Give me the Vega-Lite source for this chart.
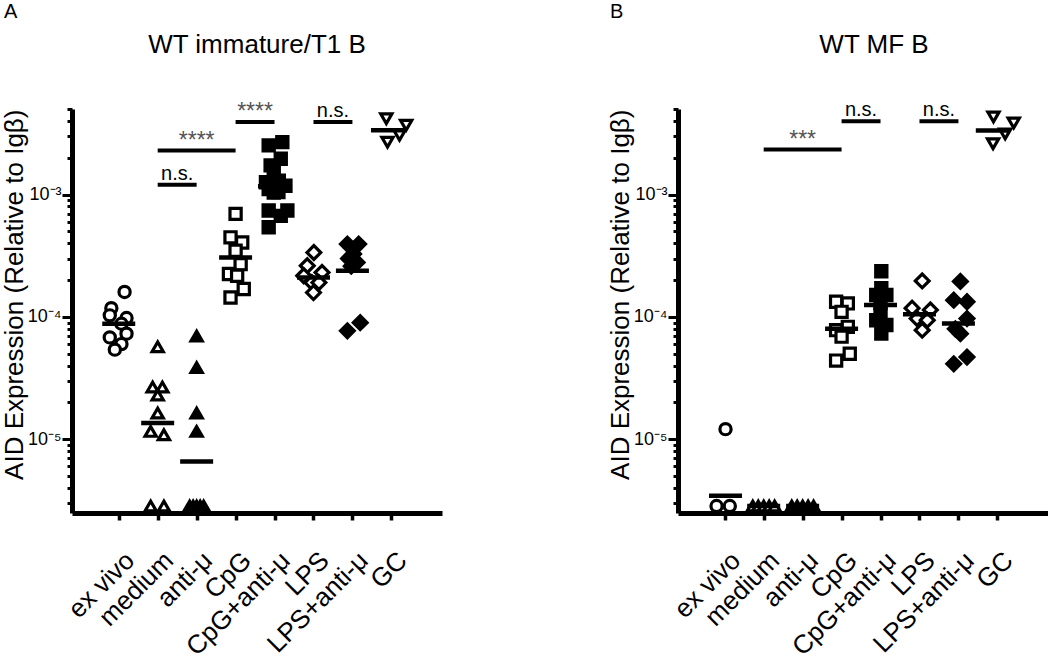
{
  "$schema": "https://vega.github.io/schema/vega-lite/v6.json",
  "background": "white",
  "padding": {"left": 0, "top": 2, "right": 0, "bottom": 0},
  "config": {
    "font": "Liberation Sans",
    "view": {"stroke": null},
    "axis": {"grid": false, "domainColor": "black", "tickColor": "black", "labelColor": "black", "titleColor": "black", "labelFont": "Liberation Sans", "titleFont": "Liberation Sans", "titleFontWeight": "normal"},
    "title": {"font": "Liberation Sans", "fontWeight": "normal", "color": "black"},
    "concat": {"spacing": 164}
  },
  "datasets": {
    "ptsA": [
      {"group": "ex vivo", "x": 0.15, "v": 1.6e-4},
      {"group": "ex vivo", "x": -0.19, "v": 1.18e-4},
      {"group": "ex vivo", "x": -0.23, "v": 1.03e-4},
      {"group": "ex vivo", "x": 0.2, "v": 9.8e-5},
      {"group": "ex vivo", "x": 0.07, "v": 8.8e-5},
      {"group": "ex vivo", "x": 0.2, "v": 7.3e-5},
      {"group": "ex vivo", "x": -0.23, "v": 6.8e-5},
      {"group": "ex vivo", "x": 0.07, "v": 6.0e-5},
      {"group": "ex vivo", "x": -0.1, "v": 5.4e-5},
      {"group": "medium", "x": 1.0, "v": 5.7e-5},
      {"group": "medium", "x": 0.87, "v": 2.67e-5},
      {"group": "medium", "x": 1.12, "v": 2.67e-5},
      {"group": "medium", "x": 1.0, "v": 2.3e-5},
      {"group": "medium", "x": 1.0, "v": 1.64e-5},
      {"group": "medium", "x": 0.82, "v": 1.16e-5},
      {"group": "medium", "x": 1.16, "v": 1.09e-5},
      {"group": "medium", "x": 0.82, "v": 2.85e-6},
      {"group": "medium", "x": 1.16, "v": 2.85e-6},
      {"group": "anti-μ", "x": 2.0, "v": 6.98e-5},
      {"group": "anti-μ", "x": 2.0, "v": 3.85e-5},
      {"group": "anti-μ", "x": 2.0, "v": 1.64e-5},
      {"group": "anti-μ", "x": 2.0, "v": 1.16e-5},
      {"group": "anti-μ", "x": 1.82, "v": 2.85e-6},
      {"group": "anti-μ", "x": 1.91, "v": 2.85e-6},
      {"group": "anti-μ", "x": 2.0, "v": 2.85e-6},
      {"group": "anti-μ", "x": 2.09, "v": 2.85e-6},
      {"group": "anti-μ", "x": 2.18, "v": 2.85e-6},
      {"group": "CpG", "x": 3.0, "v": 6.95e-4},
      {"group": "CpG", "x": 2.87, "v": 4.47e-4},
      {"group": "CpG", "x": 3.17, "v": 4.06e-4},
      {"group": "CpG", "x": 3.0, "v": 3.47e-4},
      {"group": "CpG", "x": 3.13, "v": 2.7e-4},
      {"group": "CpG", "x": 2.83, "v": 2.24e-4},
      {"group": "CpG", "x": 3.04, "v": 2.17e-4},
      {"group": "CpG", "x": 3.21, "v": 1.69e-4},
      {"group": "CpG", "x": 2.87, "v": 1.44e-4},
      {"group": "CpG+anti-μ", "x": 3.85, "v": 2.52e-3},
      {"group": "CpG+anti-μ", "x": 4.2, "v": 2.68e-3},
      {"group": "CpG+anti-μ", "x": 4.16, "v": 1.96e-3},
      {"group": "CpG+anti-μ", "x": 3.9, "v": 1.73e-3},
      {"group": "CpG+anti-μ", "x": 3.98, "v": 1.52e-3},
      {"group": "CpG+anti-μ", "x": 3.78, "v": 1.26e-3},
      {"group": "CpG+anti-μ", "x": 4.11, "v": 1.3e-3},
      {"group": "CpG+anti-μ", "x": 4.28, "v": 1.18e-3},
      {"group": "CpG+anti-μ", "x": 3.85, "v": 1.11e-3},
      {"group": "CpG+anti-μ", "x": 3.98, "v": 1.04e-3},
      {"group": "CpG+anti-μ", "x": 4.1, "v": 1.05e-3},
      {"group": "CpG+anti-μ", "x": 3.85, "v": 7.4e-4},
      {"group": "CpG+anti-μ", "x": 4.33, "v": 7.4e-4},
      {"group": "CpG+anti-μ", "x": 4.16, "v": 6.7e-4},
      {"group": "CpG+anti-μ", "x": 3.85, "v": 5.4e-4},
      {"group": "LPS", "x": 5.01, "v": 3.36e-4},
      {"group": "LPS", "x": 4.84, "v": 2.62e-4},
      {"group": "LPS", "x": 5.22, "v": 2.31e-4},
      {"group": "LPS", "x": 4.75, "v": 2.17e-4},
      {"group": "LPS", "x": 4.96, "v": 1.91e-4},
      {"group": "LPS", "x": 5.14, "v": 1.91e-4},
      {"group": "LPS", "x": 5.0, "v": 1.58e-4},
      {"group": "LPS+anti-μ", "x": 5.87, "v": 3.94e-4},
      {"group": "LPS+anti-μ", "x": 6.16, "v": 3.94e-4},
      {"group": "LPS+anti-μ", "x": 6.03, "v": 3.27e-4},
      {"group": "LPS+anti-μ", "x": 5.9, "v": 3.0e-4},
      {"group": "LPS+anti-μ", "x": 6.12, "v": 2.79e-4},
      {"group": "LPS+anti-μ", "x": 5.97, "v": 2.6e-4},
      {"group": "LPS+anti-μ", "x": 5.87, "v": 7.7e-5},
      {"group": "LPS+anti-μ", "x": 6.2, "v": 8.97e-5},
      {"group": "GC", "x": 6.87, "v": 4.17e-3},
      {"group": "GC", "x": 7.38, "v": 3.68e-3},
      {"group": "GC", "x": 7.21, "v": 3.05e-3},
      {"group": "GC", "x": 6.9, "v": 2.68e-3}
    ],
    "meanA": [
      {"x": 0, "v": 8.8e-5},
      {"x": 1, "v": 1.36e-5},
      {"x": 2, "v": 6.6e-6},
      {"x": 3, "v": 3.06e-4},
      {"x": 4, "v": 1.17e-3},
      {"x": 5, "v": 2.1e-4},
      {"x": 6, "v": 2.38e-4},
      {"x": 6.9, "v": 3.35e-3}
    ],
    "sigA": [
      {"x": 1, "x2": 2, "v": 1.2e-3},
      {"x": 1, "x2": 3, "v": 2.29e-3},
      {"x": 3, "x2": 4, "v": 3.92e-3},
      {"x": 5, "x2": 6, "v": 3.92e-3}
    ],
    "sigTextA": [
      {"x": 1.5, "v": 1.2e-3, "label": "n.s."},
      {"x": 2, "v": 2.29e-3, "label": "****"},
      {"x": 3.5, "v": 3.92e-3, "label": "****"},
      {"x": 5.5, "v": 3.92e-3, "label": "n.s."}
    ],
    "ptsB": [
      {"group": "ex vivo", "x": 0.02, "v": 1.21e-5},
      {"group": "ex vivo", "x": -0.21, "v": 2.85e-6},
      {"group": "ex vivo", "x": 0.13, "v": 2.85e-6},
      {"group": "medium", "x": 0.72, "v": 2.85e-6},
      {"group": "medium", "x": 0.86, "v": 2.85e-6},
      {"group": "medium", "x": 1.0, "v": 2.85e-6},
      {"group": "medium", "x": 1.14, "v": 2.85e-6},
      {"group": "medium", "x": 1.28, "v": 2.85e-6},
      {"group": "anti-μ", "x": 1.72, "v": 2.85e-6},
      {"group": "anti-μ", "x": 1.86, "v": 2.85e-6},
      {"group": "anti-μ", "x": 2.0, "v": 2.85e-6},
      {"group": "anti-μ", "x": 2.14, "v": 2.85e-6},
      {"group": "anti-μ", "x": 2.28, "v": 2.85e-6},
      {"group": "CpG", "x": 2.86, "v": 1.33e-4},
      {"group": "CpG", "x": 3.16, "v": 1.29e-4},
      {"group": "CpG", "x": 3.0, "v": 1.1e-4},
      {"group": "CpG", "x": 3.16, "v": 8.3e-5},
      {"group": "CpG", "x": 2.86, "v": 7.8e-5},
      {"group": "CpG", "x": 3.0, "v": 6.9e-5},
      {"group": "CpG", "x": 3.21, "v": 5.0e-5},
      {"group": "CpG", "x": 2.86, "v": 4.4e-5},
      {"group": "CpG+anti-μ", "x": 4.02, "v": 2.36e-4},
      {"group": "CpG+anti-μ", "x": 4.02, "v": 1.72e-4},
      {"group": "CpG+anti-μ", "x": 4.15, "v": 1.51e-4},
      {"group": "CpG+anti-μ", "x": 3.89, "v": 1.51e-4},
      {"group": "CpG+anti-μ", "x": 4.0, "v": 1.3e-4},
      {"group": "CpG+anti-μ", "x": 4.0, "v": 1.05e-4},
      {"group": "CpG+anti-μ", "x": 3.89, "v": 9.4e-5},
      {"group": "CpG+anti-μ", "x": 4.15, "v": 8.6e-5},
      {"group": "CpG+anti-μ", "x": 4.02, "v": 7.3e-5},
      {"group": "LPS", "x": 5.07, "v": 1.97e-4},
      {"group": "LPS", "x": 4.81, "v": 1.18e-4},
      {"group": "LPS", "x": 5.28, "v": 1.14e-4},
      {"group": "LPS", "x": 4.94, "v": 9.7e-5},
      {"group": "LPS", "x": 5.2, "v": 9.4e-5},
      {"group": "LPS", "x": 5.07, "v": 7.8e-5},
      {"group": "LPS+anti-μ", "x": 6.05, "v": 1.95e-4},
      {"group": "LPS+anti-μ", "x": 5.88, "v": 1.37e-4},
      {"group": "LPS+anti-μ", "x": 6.22, "v": 1.33e-4},
      {"group": "LPS+anti-μ", "x": 6.22, "v": 9.7e-5},
      {"group": "LPS+anti-μ", "x": 5.92, "v": 8.0e-5},
      {"group": "LPS+anti-μ", "x": 6.05, "v": 7.3e-5},
      {"group": "LPS+anti-μ", "x": 5.88, "v": 4.14e-5},
      {"group": "LPS+anti-μ", "x": 6.22, "v": 4.7e-5},
      {"group": "GC", "x": 6.9, "v": 4.31e-3},
      {"group": "GC", "x": 7.42, "v": 3.84e-3},
      {"group": "GC", "x": 7.2, "v": 3.13e-3},
      {"group": "GC", "x": 6.89, "v": 2.6e-3}
    ],
    "meanB": [
      {"x": 0.02, "v": 3.46e-6},
      {"x": 1, "v": 2.85e-6},
      {"x": 2, "v": 2.85e-6},
      {"x": 3, "v": 8.0e-5},
      {"x": 4, "v": 1.25e-4},
      {"x": 5, "v": 1.05e-4},
      {"x": 6, "v": 8.85e-5},
      {"x": 6.87, "v": 3.34e-3}
    ],
    "sigB": [
      {"x": 1, "x2": 3, "v": 2.33e-3},
      {"x": 3, "x2": 4, "v": 3.98e-3},
      {"x": 5, "x2": 6, "v": 3.98e-3}
    ],
    "sigTextB": [
      {"x": 2, "v": 2.33e-3, "label": "***"},
      {"x": 3.5, "v": 3.98e-3, "label": "n.s."},
      {"x": 5.5, "v": 3.98e-3, "label": "n.s."}
    ]
  },
  "hconcat": [
    {
      "title": {"text": "A", "anchor": "start", "fontSize": 20, "offset": 10, "dx": 3},
      "vconcat": [
        {
          "width": 370,
          "height": 404,
          "title": {"text": "WT immature/T1 B", "fontSize": 26, "offset": 42},
          "encoding": {
            "x": {
              "field": "x", "type": "quantitative",
              "scale": {"domain": [-1.2, 8.3], "nice": false, "zero": false},
              "axis": {
                "title": null, "values": [0, 1, 2, 3, 4, 5, 6, 7],
                "labelExpr": "['ex vivo','medium','anti-μ','CpG','CpG+anti-μ','LPS','LPS+anti-μ','GC'][datum.value]",
                "labelAngle": -45, "labelAlign": "right", "labelBaseline": "middle", "labelFontSize": 26,
                "labelPadding": 36, "labelOffset": 11, "labelOverlap": false, "labelFlush": false, "labelBound": false,
                "tickSize": 7, "tickWidth": 3.5, "domainWidth": 5
              }
            },
            "y": {
              "field": "v", "type": "quantitative",
              "scale": {"type": "log", "domain": [2.5e-6, 0.005], "nice": false},
              "axis": {
                "title": "AID Expression (Relative to Igβ)", "titleFontSize": 26, "titleAnchor": "end", "titleBaseline": "alphabetic", "titleX": -50,
                "values": [3e-6, 4e-6, 5e-6, 6e-6, 7e-6, 8e-6, 9e-6, 1e-5, 2e-5, 3e-5, 4e-5, 5e-5, 6e-5, 7e-5, 8e-5, 9e-5, 1e-4, 2e-4, 3e-4, 4e-4, 5e-4, 6e-4, 7e-4, 8e-4, 9e-4, 0.001, 0.002, 0.003, 0.004, 0.005],
                "labelExpr": "datum.value == 0.001 ? '10⁻³' : datum.value == 0.0001 ? '10⁻⁴' : datum.value == 0.00001 ? '10⁻⁵' : ''",
                "labelFontSize": 18, "labelPadding": 1, "labelOverlap": false, "labelFlush": false, "labelBound": false,
                "tickSize": {"condition": {"test": "datum.value == 0.001 || datum.value == 0.0001 || datum.value == 0.00001", "value": 10}, "value": 5},
                "tickWidth": 3, "domainWidth": 5
              }
            }
          },
          "layer": [
            {
              "data": {"name": "sigA"},
              "mark": {"type": "rule", "strokeWidth": 4, "color": "black"},
              "encoding": {"x2": {"field": "x2"}}
            },
            {
              "data": {"name": "sigTextA"},
              "transform": [{"filter": "datum.label == 'n.s.'"}],
              "mark": {"type": "text", "baseline": "alphabetic", "align": "center", "dy": -5, "fontSize": 20, "color": "black"},
              "encoding": {"text": {"field": "label"}}
            },
            {
              "data": {"name": "sigTextA"},
              "transform": [{"filter": "datum.label != 'n.s.'"}],
              "mark": {"type": "text", "baseline": "alphabetic", "align": "center", "dy": -3, "fontSize": 23, "color": "#555555"},
              "encoding": {"text": {"field": "label"}}
            },
            {
              "data": {"name": "ptsA"},
              "transform": [{"filter": "datum.group != 'LPS' && datum.group != 'LPS+anti-μ'"}],
              "mark": {"type": "point", "stroke": "black", "strokeWidth": 3.2, "size": 125, "opacity": 1, "fillOpacity": 1},
              "encoding": {
                "shape": {"field": "group", "type": "nominal", "scale": {"domain": ["ex vivo", "medium", "anti-μ", "CpG", "CpG+anti-μ", "LPS", "LPS+anti-μ", "GC"], "range": ["circle", "triangle-up", "triangle-up", "square", "square", "diamond", "diamond", "triangle-down"]}, "legend": null},
                "fill": {"field": "group", "type": "nominal", "scale": {"domain": ["ex vivo", "medium", "anti-μ", "CpG", "CpG+anti-μ", "LPS", "LPS+anti-μ", "GC"], "range": ["white", "white", "black", "white", "black", "white", "black", "white"]}, "legend": null}
              }
            },
            {
              "data": {"name": "ptsA"},
              "transform": [{"filter": "datum.group == 'LPS' || datum.group == 'LPS+anti-μ'"}],
              "mark": {"type": "point", "stroke": "black", "strokeWidth": 3.2, "size": 190, "opacity": 1, "fillOpacity": 1},
              "encoding": {
                "shape": {"field": "group", "type": "nominal", "legend": null},
                "fill": {"field": "group", "type": "nominal", "legend": null}
              }
            },
            {
              "data": {"name": "meanA"},
              "mark": {"type": "tick", "orient": "horizontal", "size": 33, "thickness": 4.5, "color": "black", "opacity": 1}
            }
          ]
        }
      ]
    },
    {
      "title": {"text": "B", "anchor": "start", "fontSize": 20, "offset": 10, "dx": 3},
      "vconcat": [
        {
          "width": 370,
          "height": 404,
          "title": {"text": "WT MF B", "fontSize": 26, "offset": 42, "dx": 11},
          "encoding": {
            "x": {
              "field": "x", "type": "quantitative",
              "scale": {"domain": [-1.2, 8.3], "nice": false, "zero": false},
              "axis": {
                "title": null, "values": [0, 1, 2, 3, 4, 5, 6, 7],
                "labelExpr": "['ex vivo','medium','anti-μ','CpG','CpG+anti-μ','LPS','LPS+anti-μ','GC'][datum.value]",
                "labelAngle": -45, "labelAlign": "right", "labelBaseline": "middle", "labelFontSize": 26,
                "labelPadding": 36, "labelOffset": 11, "labelOverlap": false, "labelFlush": false, "labelBound": false,
                "tickSize": 7, "tickWidth": 3.5, "domainWidth": 5
              }
            },
            "y": {
              "field": "v", "type": "quantitative",
              "scale": {"type": "log", "domain": [2.5e-6, 0.005], "nice": false},
              "axis": {
                "title": "AID Expression (Relative to Igβ)", "titleFontSize": 26, "titleAnchor": "end", "titleBaseline": "alphabetic", "titleX": -50,
                "values": [3e-6, 4e-6, 5e-6, 6e-6, 7e-6, 8e-6, 9e-6, 1e-5, 2e-5, 3e-5, 4e-5, 5e-5, 6e-5, 7e-5, 8e-5, 9e-5, 1e-4, 2e-4, 3e-4, 4e-4, 5e-4, 6e-4, 7e-4, 8e-4, 9e-4, 0.001, 0.002, 0.003, 0.004, 0.005],
                "labelExpr": "datum.value == 0.001 ? '10⁻³' : datum.value == 0.0001 ? '10⁻⁴' : datum.value == 0.00001 ? '10⁻⁵' : ''",
                "labelFontSize": 18, "labelPadding": 1, "labelOverlap": false, "labelFlush": false, "labelBound": false,
                "tickSize": {"condition": {"test": "datum.value == 0.001 || datum.value == 0.0001 || datum.value == 0.00001", "value": 10}, "value": 5},
                "tickWidth": 3, "domainWidth": 5
              }
            }
          },
          "layer": [
            {
              "data": {"name": "sigB"},
              "mark": {"type": "rule", "strokeWidth": 4, "color": "black"},
              "encoding": {"x2": {"field": "x2"}}
            },
            {
              "data": {"name": "sigTextB"},
              "transform": [{"filter": "datum.label == 'n.s.'"}],
              "mark": {"type": "text", "baseline": "alphabetic", "align": "center", "dy": -5, "fontSize": 20, "color": "black"},
              "encoding": {"text": {"field": "label"}}
            },
            {
              "data": {"name": "sigTextB"},
              "transform": [{"filter": "datum.label != 'n.s.'"}],
              "mark": {"type": "text", "baseline": "alphabetic", "align": "center", "dy": -3, "fontSize": 23, "color": "#555555"},
              "encoding": {"text": {"field": "label"}}
            },
            {
              "data": {"name": "ptsB"},
              "transform": [{"filter": "datum.group != 'LPS' && datum.group != 'LPS+anti-μ'"}],
              "mark": {"type": "point", "stroke": "black", "strokeWidth": 3.2, "size": 125, "opacity": 1, "fillOpacity": 1},
              "encoding": {
                "shape": {"field": "group", "type": "nominal", "scale": {"domain": ["ex vivo", "medium", "anti-μ", "CpG", "CpG+anti-μ", "LPS", "LPS+anti-μ", "GC"], "range": ["circle", "triangle-up", "triangle-up", "square", "square", "diamond", "diamond", "triangle-down"]}, "legend": null},
                "fill": {"field": "group", "type": "nominal", "scale": {"domain": ["ex vivo", "medium", "anti-μ", "CpG", "CpG+anti-μ", "LPS", "LPS+anti-μ", "GC"], "range": ["white", "white", "black", "white", "black", "white", "black", "white"]}, "legend": null}
              }
            },
            {
              "data": {"name": "ptsB"},
              "transform": [{"filter": "datum.group == 'LPS' || datum.group == 'LPS+anti-μ'"}],
              "mark": {"type": "point", "stroke": "black", "strokeWidth": 3.2, "size": 190, "opacity": 1, "fillOpacity": 1},
              "encoding": {
                "shape": {"field": "group", "type": "nominal", "legend": null},
                "fill": {"field": "group", "type": "nominal", "legend": null}
              }
            },
            {
              "data": {"name": "meanB"},
              "mark": {"type": "tick", "orient": "horizontal", "size": 33, "thickness": 4.5, "color": "black", "opacity": 1}
            }
          ]
        }
      ]
    }
  ]
}
